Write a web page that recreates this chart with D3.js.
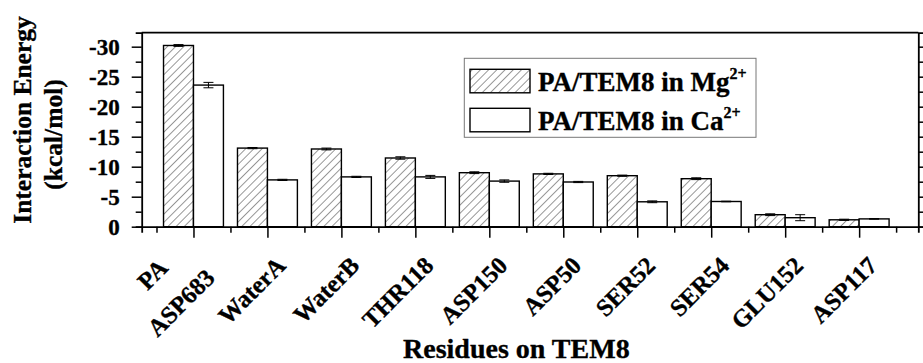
<!DOCTYPE html>
<html>
<head>
<meta charset="utf-8">
<script src="https://cdn.jsdelivr.net/npm/d3@7"></script>
<style>
  html, body { margin: 0; padding: 0; background: #fff; }
  svg { display: block; font-family: "Liberation Serif", "Times New Roman", serif; font-weight: bold; }
  svg text { stroke: #000; stroke-width: 0.35px; }
</style>
</head>
<body>
<svg id="chart" width="923" height="363"></svg>
<script>
// Residue labels (first group has a two-line label)
const residues = [["PA", "ASP683"], ["WaterA"], ["WaterB"], ["THR118"], ["ASP150"],
                  ["ASP50"], ["SER52"], ["SER54"], ["GLU152"], ["ASP117"]];
// Interaction energies (kcal/mol) and their errors
const mgEnergy = [-30.2, -13.1, -12.95, -11.45, -9.0, -8.8, -8.5, -8.0, -2.0, -1.15];
const mgError  = [0.15, 0.1, 0.15, 0.2, 0.15, 0.1, 0.1, 0.15, 0.15, 0.1];
const caEnergy = [-23.6, -7.8, -8.3, -8.3, -7.6, -7.45, -4.15, -4.2, -1.5, -1.3];
const caError  = [0.45, 0.1, 0.1, 0.25, 0.2, 0.1, 0.15, 0.05, 0.5, 0.05];
const seriesNames = ["PA/TEM8 in Mg", "PA/TEM8 in Ca"];
const yTicks = [0, -5, -10, -15, -20, -25, -30];

const svg = d3.select("#chart");
const plotLeft = 141.7, plotRight = 918.3, plotTop = 32.7, plotBottom = 226.7;

// x: group index 1..10, axis spans 0.3 .. 10.8
const x = d3.scaleLinear().domain([0.3, 10.8]).range([plotLeft, plotRight]);
const y = d3.scaleLinear().domain([0, -32.33]).range([plotBottom, plotTop]);
const barW = 0.405; // bar width in group units

// hatch pattern
const defs = svg.append("defs");
const pat = defs.append("pattern").attr("id", "hatch")
  .attr("patternUnits", "userSpaceOnUse").attr("width", 5.8).attr("height", 5.8)
  .attr("patternTransform", "rotate(45)");
pat.append("rect").attr("width", 5.8).attr("height", 5.8).attr("fill", "#fff");
pat.append("line").attr("x1", 0).attr("y1", 0).attr("x2", 0).attr("y2", 5.8)
  .attr("stroke", "#444").attr("stroke-width", 1.1);

const idx = d3.range(residues.length);

// bars
const g = svg.append("g");
g.selectAll("rect.mg").data(idx).join("rect").attr("class", "mg")
  .attr("x", i => x(i + 1 - barW)).attr("width", i => x(i + 1) - x(i + 1 - barW))
  .attr("y", i => y(mgEnergy[i])).attr("height", i => y(0) - y(mgEnergy[i]))
  .attr("fill", "url(#hatch)").attr("stroke", "#000").attr("stroke-width", 1.4);
g.selectAll("rect.ca").data(idx).join("rect").attr("class", "ca")
  .attr("x", i => x(i + 1)).attr("width", i => x(i + 1 + barW) - x(i + 1))
  .attr("y", i => y(caEnergy[i])).attr("height", i => y(0) - y(caEnergy[i]))
  .attr("fill", "#fff").attr("stroke", "#000").attr("stroke-width", 1.4);

// error bars
function errBars(vals, errs, offset) {
  idx.forEach(i => {
    const cx = x(i + 1 + offset);
    const y1 = y(vals[i] - errs[i]), y2 = y(vals[i] + errs[i]);
    g.append("line").attr("x1", cx).attr("x2", cx).attr("y1", y1).attr("y2", y2)
      .attr("stroke", "#000").attr("stroke-width", 1);
    [y1, y2].forEach(yy => g.append("line").attr("x1", cx - 5).attr("x2", cx + 5)
      .attr("y1", yy).attr("y2", yy).attr("stroke", "#000").attr("stroke-width", 1));
  });
}
errBars(mgEnergy, mgError, -barW / 2);
errBars(caEnergy, caError, barW / 2);

// axes
const minorY = d3.range(0, -32.5, -2.5);
const leftAxis = svg.append("g").attr("transform", `translate(${plotLeft},0)`)
  .call(d3.axisLeft(y).tickValues(minorY).tickSize(6).tickFormat(""));
leftAxis.selectAll(".tick line").filter(d => d % 5 === 0).attr("x2", -10);
svg.append("g").attr("transform", `translate(${plotLeft},0)`)
  .call(d3.axisLeft(y).tickValues(yTicks).tickSize(0).tickPadding(22).tickFormat(d => String(d)))
  .call(a => a.select(".domain").remove())
  .selectAll("text").attr("font-size", 23).attr("font-family", "Liberation Serif")
  .attr("font-weight", "bold").attr("fill", "#000");

svg.append("g").attr("transform", `translate(${plotRight},0)`)
  .call(d3.axisRight(y).tickValues(minorY).tickSize(6).tickFormat(""));

const majorX = idx.map(i => i + 1);
const minorX = d3.range(0.5, 11, 1);
svg.append("g").attr("transform", `translate(0,${plotBottom})`)
  .call(d3.axisBottom(x).tickValues(minorX).tickSize(6).tickFormat(""));
svg.append("g").attr("transform", `translate(0,${plotBottom})`)
  .call(d3.axisBottom(x).tickValues(majorX).tickSize(11).tickFormat(""))
  .call(a => a.select(".domain").remove());

svg.selectAll(".domain").attr("stroke", "#000").attr("stroke-width", 1.8);
svg.selectAll(".tick line").attr("stroke", "#000").attr("stroke-width", 1.5);

// top frame line
svg.append("line").attr("x1", plotLeft).attr("x2", plotRight).attr("y1", plotTop).attr("y2", plotTop)
  .attr("stroke", "#000").attr("stroke-width", 1.8);

// rotated residue labels, right-aligned just past each group tick
idx.forEach(i => {
  const lines = residues[i];
  const t = svg.append("text")
    .attr("transform", `translate(${x(i + 1) + 19.5},267) rotate(-45)`)
    .attr("font-size", 24.5).attr("fill", "#000");
  if (lines.length === 1) {
    t.attr("text-anchor", "end").text(lines[0]);
  } else {
    t.attr("text-anchor", "middle");
    lines.forEach((ln, k) => {
      t.append("tspan").attr("x", -48).attr("y", k === 0 ? -29.3 : 10.9).text(ln);
    });
  }
});

// axis titles
svg.append("text").attr("x", 403).attr("y", 357.5).attr("font-size", 28)
  .attr("fill", "#000").text("Residues on TEM8");
svg.append("text").attr("transform", "translate(31,120) rotate(-90)")
  .attr("text-anchor", "middle").attr("font-size", 25.5).attr("fill", "#000")
  .text("Interaction Energy");
svg.append("text").attr("transform", "translate(62,134.5) rotate(-90)")
  .attr("text-anchor", "middle").attr("font-size", 25.5).attr("fill", "#000")
  .text("(kcal/mol)");

// legend
const lg = svg.append("g");
lg.append("rect").attr("x", 464.3).attr("y", 58.3).attr("width", 291.7).attr("height", 79)
  .attr("fill", "#fff").attr("stroke", "#777").attr("stroke-width", 1);
const fills = ["url(#hatch)", "#fff"];
seriesNames.forEach((name, k) => {
  const yy = 69.3 + k * 39;
  lg.append("rect").attr("x", 470).attr("y", yy).attr("width", 60).attr("height", 23.5)
    .attr("fill", fills[k]).attr("stroke", "#000").attr("stroke-width", 1.4);
  const t = lg.append("text").attr("x", 538).attr("y", yy + 21.5)
    .attr("font-size", 27).attr("fill", "#000");
  t.append("tspan").text(name);
  t.append("tspan").attr("font-size", 16).attr("dy", -12).text("2+");
});
</script>
</body>
</html>
